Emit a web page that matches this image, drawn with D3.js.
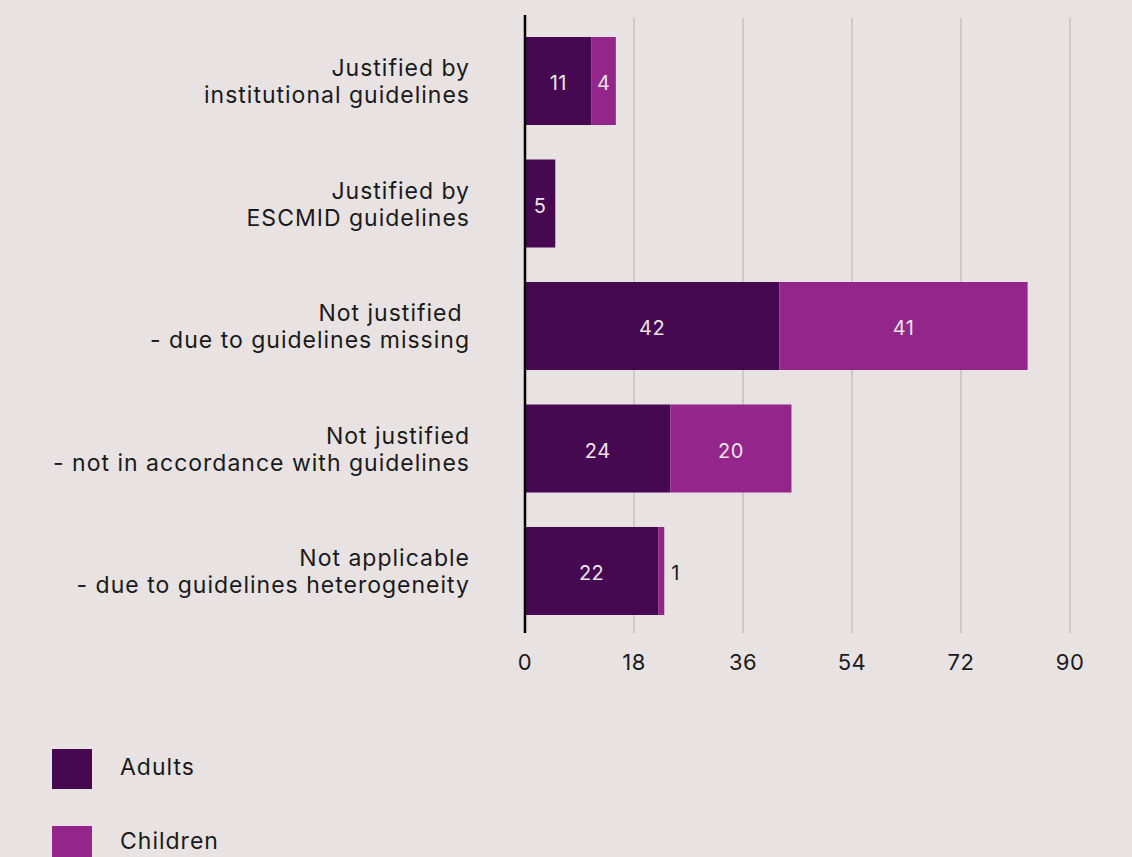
<!DOCTYPE html>
<html><head><meta charset="utf-8">
<script src="https://cdn.jsdelivr.net/npm/d3@7"></script>
<style>
html,body{margin:0;padding:0;background:#e8e2e2;}
svg text{font-family:Inter, "Noto Sans", sans-serif;}
</style></head>
<body><svg id="c" width="1132" height="857"></svg>
<script>
const categories = [
  ["Justified by", "institutional guidelines"],
  ["Justified by", "ESCMID guidelines"],
  ["Not justified ", "- due to guidelines missing"],
  ["Not justified", "- not in accordance with guidelines"],
  ["Not applicable", "- due to guidelines heterogeneity"]
];
const adults = [11, 5, 42, 24, 22];
const children = [4, 0, 41, 20, 1];
const seriesNames = ["Adults", "Children"];
const colors = ["#470852", "#93258b"];
const xTicks = [0, 18, 36, 54, 72, 90];

(function(){
const svg = d3.select("#c");
const x0 = 525, x1 = 1070, plotBottom = 633;
const x = d3.scaleLinear().domain([0, 90]).range([x0, x1]);
const y = d3.scaleBand().domain(d3.range(categories.length)).range([17, 635]).paddingInner(0.2816).paddingOuter(0.1633);

svg.append("g").selectAll("line").data(xTicks.slice(1)).join("line")
  .attr("x1", d => x(d)).attr("x2", d => x(d)).attr("y1", 18).attr("y2", plotBottom)
  .attr("stroke", "#c4c0c0").attr("stroke-width", 1.5);

const rows = categories.map((c, i) => ({i, a: adults[i], c: children[i]}));
const g = svg.append("g");
const valStyle = t => t.attr("font-size", 20).attr("letter-spacing", 0.5);
rows.forEach(r => {
  g.append("rect").attr("x", x(0)).attr("y", y(r.i)).attr("width", x(r.a) - x(0)).attr("height", y.bandwidth()).attr("fill", colors[0]);
  if (r.c > 0) g.append("rect").attr("x", x(r.a)).attr("y", y(r.i)).attr("width", x(r.a + r.c) - x(r.a)).attr("height", y.bandwidth()).attr("fill", colors[1]);
  const cy = y(r.i) + y.bandwidth() / 2 + 2;
  g.append("text").attr("x", (x(0) + x(r.a)) / 2).attr("y", cy).attr("dy", "0.36em").attr("text-anchor", "middle")
    .attr("fill", "#ece6e8").call(valStyle).text(r.a);
  if (r.c > 0) {
    const w = x(r.a + r.c) - x(r.a);
    if (w > 20) {
      g.append("text").attr("x", (x(r.a) + x(r.a + r.c)) / 2).attr("y", cy).attr("dy", "0.36em").attr("text-anchor", "middle")
        .attr("fill", "#ece6e8").call(valStyle).text(r.c);
    } else {
      g.append("text").attr("x", x(r.a + r.c) + 7).attr("y", cy).attr("dy", "0.36em").attr("text-anchor", "start")
        .attr("fill", "#1a1a1a").call(valStyle).text(r.c);
    }
  }
});

svg.append("line").attr("x1", x(0)).attr("x2", x(0)).attr("y1", 15).attr("y2", plotBottom).attr("stroke", "#000").attr("stroke-width", 2.5);

svg.append("g").selectAll("text").data(xTicks).join("text")
  .attr("x", d => x(d)).attr("y", 662).attr("dy", "0.36em").attr("text-anchor", "middle")
  .attr("fill", "#1a1a1a").attr("font-size", 22).attr("letter-spacing", 0.5).text(d => d);

categories.forEach((c, i) => {
  const cy = y(i) + y.bandwidth() / 2;
  const t = svg.append("text").attr("text-anchor", "end").attr("fill", "#1a1a1a").attr("font-size", 23)
    .attr("letter-spacing", 1)
    .attr("xml:space", "preserve").style("white-space", "pre");
  c.forEach((line, k) => {
    t.append("tspan").attr("x", 470).attr("y", cy + (k === 0 ? -13 : 14)).attr("dy", "0.36em").text(line);
  });
});

seriesNames.forEach((s, i) => {
  const ly = 749 + i * 77;
  svg.append("rect").attr("x", 52).attr("y", ly).attr("width", 40).attr("height", 40).attr("fill", colors[i]);
  svg.append("text").attr("x", 120).attr("y", i === 0 ? 767 : 841).attr("dy", "0.36em").attr("fill", "#1a1a1a")
    .attr("font-size", 23).attr("letter-spacing", 1).text(s);
});
})();
</script></body></html>
